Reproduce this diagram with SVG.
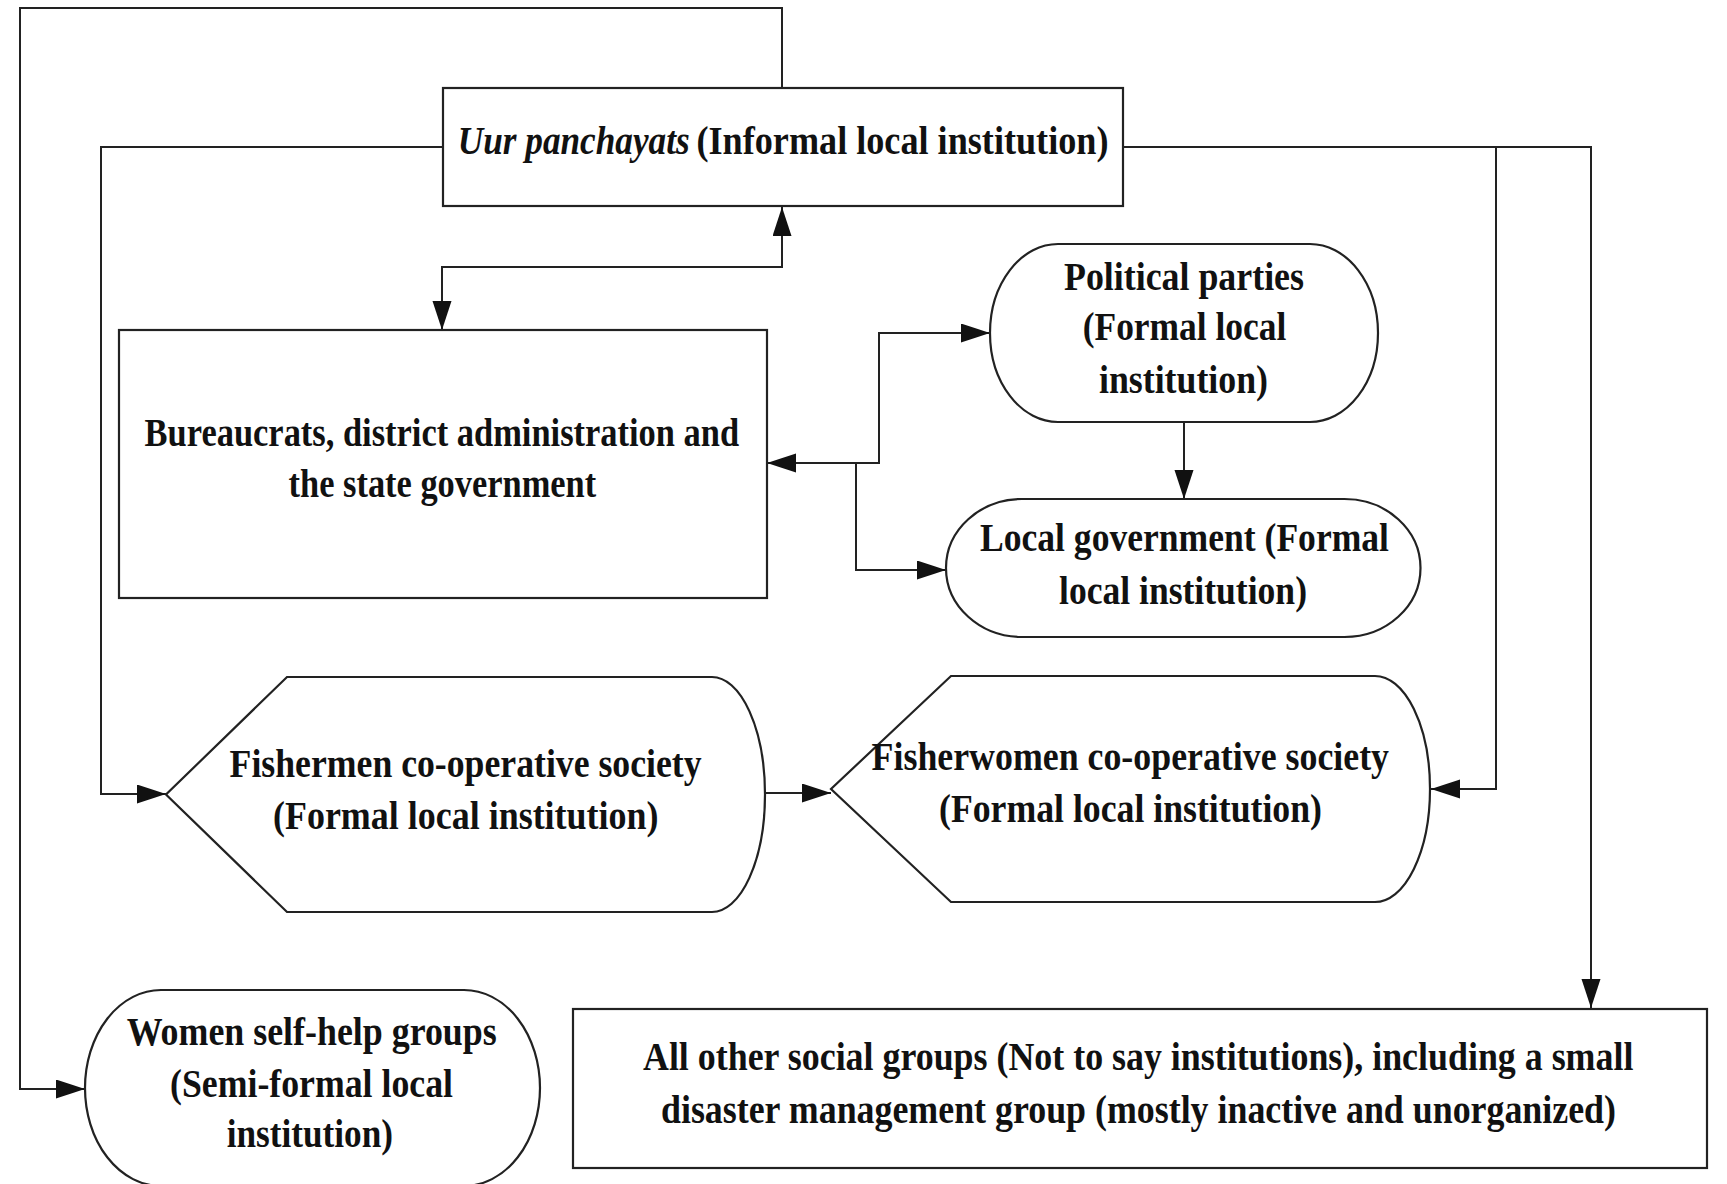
<svg xmlns="http://www.w3.org/2000/svg" width="1727" height="1184" viewBox="0 0 1727 1184">
  <style>
    .shape { fill: #ffffff; stroke: #222222; stroke-width: 2.2; }
    .link { fill: none; stroke: #222222; stroke-width: 2; }
    .label { font-family: "Liberation Serif", "Times New Roman", serif; font-size: 41px; font-weight: bold; fill: #111111; }
    .it { font-style: italic; }
  </style>
  <defs>
    <marker id="arrow" markerUnits="userSpaceOnUse" markerWidth="30" markerHeight="20" refX="29" refY="9.5" orient="auto-start-reverse">
      <path d="M0,0 L29,9.5 L0,19 Z" fill="#111111"/>
    </marker>
  </defs>

  <rect width="1727" height="1184" fill="#ffffff"/>

  <!-- connectors -->
  <g id="connectors">
    <!-- Uur top, round the outside, to women self-help groups -->
    <path class="link" d="M782,88 V8 H20 V1089 H85" marker-end="url(#arrow)"/>
    <!-- Uur left to fishermen society -->
    <path class="link" d="M443,147 H101 V794 H166" marker-end="url(#arrow)"/>
    <!-- Uur and bureaucrats, both ways -->
    <path class="link" d="M782,207 V267 H442 V330" marker-start="url(#arrow)" marker-end="url(#arrow)"/>
    <!-- Uur right to other social groups -->
    <path class="link" d="M1123,147 H1591 V1008" marker-end="url(#arrow)"/>
    <!-- Uur right branch to fisherwomen society -->
    <path class="link" d="M1496,147 V789 H1431" marker-end="url(#arrow)"/>
    <!-- bureaucrats and political parties, both ways -->
    <path class="link" d="M767,463 H879 V333 H990" marker-start="url(#arrow)" marker-end="url(#arrow)"/>
    <!-- bureaucrats to local government -->
    <path class="link" d="M856,463 V570 H946" marker-end="url(#arrow)"/>
    <!-- political parties to local government -->
    <path class="link" d="M1184,422 V499" marker-end="url(#arrow)"/>
    <!-- fishermen to fisherwomen -->
    <path class="link" d="M765,793 H831" marker-end="url(#arrow)"/>
  </g>

  <!-- nodes -->
  <g id="uur-panchayats">
    <rect class="shape" x="443" y="88" width="680" height="118"/>
    <!-- title set in a horizontally narrowed frame -->
    <g transform="scale(0.85,1)">
      <text class="label it" x="538.5" y="154" textLength="272.9" lengthAdjust="spacingAndGlyphs">Uur panchayats</text>
      <text class="label" x="819.4" y="154" textLength="484.7" lengthAdjust="spacingAndGlyphs">(Informal local institution)</text>
    </g>
  </g>

  <g id="bureaucrats">
    <rect class="shape" x="119" y="330" width="648" height="268"/>
    <text class="label" x="144.6" y="446" textLength="594.5" lengthAdjust="spacingAndGlyphs">Bureaucrats, district administration and</text>
    <text class="label" x="288.6" y="497" textLength="307.6" lengthAdjust="spacingAndGlyphs">the state government</text>
  </g>

  <g id="political-parties">
    <rect class="shape" x="990" y="244" width="388" height="178" rx="68" ry="89"/>
    <text class="label" x="1064" y="290" textLength="240" lengthAdjust="spacingAndGlyphs">Political parties</text>
    <text class="label" x="1082.7" y="340" textLength="203.7" lengthAdjust="spacingAndGlyphs">(Formal local</text>
    <text class="label" x="1099" y="393" textLength="169" lengthAdjust="spacingAndGlyphs">institution)</text>
  </g>

  <g id="local-government">
    <rect class="shape" x="946" y="499" width="474.5" height="138" rx="76" ry="69"/>
    <text class="label" x="980" y="551" textLength="409" lengthAdjust="spacingAndGlyphs">Local government (Formal</text>
    <text class="label" x="1059" y="604" textLength="248" lengthAdjust="spacingAndGlyphs">local institution)</text>
  </g>

  <g id="fishermen-society">
    <path class="shape" d="M287,677 H712 A53,117.5 0 0 1 712,912 H287 L166,794.5 Z"/>
    <text class="label" x="229.6" y="777" textLength="472" lengthAdjust="spacingAndGlyphs">Fishermen co-operative society</text>
    <text class="label" x="273" y="829" textLength="385.5" lengthAdjust="spacingAndGlyphs">(Formal local institution)</text>
  </g>

  <g id="fisherwomen-society">
    <path class="shape" d="M951,676 H1375 A55,113 0 0 1 1375,902 H951 L831,789 Z"/>
    <text class="label" x="871.6" y="770" textLength="517.4" lengthAdjust="spacingAndGlyphs">Fisherwomen co-operative society</text>
    <text class="label" x="939" y="822" textLength="383" lengthAdjust="spacingAndGlyphs">(Formal local institution)</text>
  </g>

  <g id="women-self-help-groups">
    <rect class="shape" x="85" y="990" width="455" height="196" rx="76" ry="98"/>
    <text class="label" x="126.7" y="1045" textLength="370" lengthAdjust="spacingAndGlyphs">Women self-help groups</text>
    <text class="label" x="170" y="1097" textLength="283" lengthAdjust="spacingAndGlyphs">(Semi-formal local</text>
    <text class="label" x="226.7" y="1147" textLength="166.3" lengthAdjust="spacingAndGlyphs">institution)</text>
  </g>

  <g id="other-social-groups">
    <rect class="shape" x="573" y="1009" width="1134" height="159"/>
    <!-- long lines drawn in a horizontally narrowed frame -->
    <g transform="scale(0.8,1)">
      <text class="label" x="803.75" y="1070.5" textLength="1238" lengthAdjust="spacingAndGlyphs">All other social groups (Not to say institutions), including a small</text>
      <text class="label" x="826.25" y="1122.6" textLength="1193.75" lengthAdjust="spacingAndGlyphs">disaster management group (mostly inactive and unorganized)</text>
    </g>
  </g>
</svg>
